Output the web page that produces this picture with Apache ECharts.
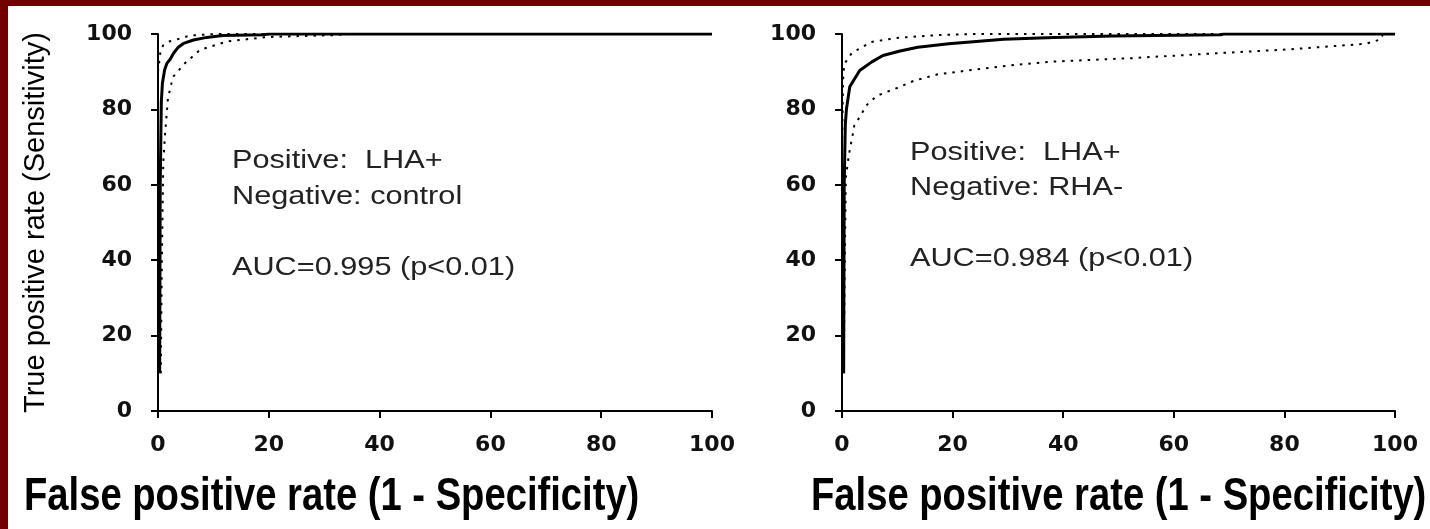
<!DOCTYPE html>
<html>
<head>
<meta charset="utf-8">
<script src="https://cdn.jsdelivr.net/npm/echarts@6/dist/echarts.min.js"></script>
<style>
    html, body { margin: 0; padding: 0; background: #fff; }
    #chart { width: 1430px; height: 529px; }
</style>
</head>
<body>
<div id="chart"></div>
<script>
// axis ticks (percent)
const xTicks = [0, 20, 40, 60, 80, 100];
const yTicks = [0, 20, 40, 60, 80, 100];

// left panel: LHA+ vs control, [false positive %, true positive %]
const leftRoc = [[0.3, 10], [0.4, 60], [0.6, 82], [0.8, 87], [1.2, 90.5], [1.6, 92.2], [2.2, 93.3], [2.8, 94.9], [3.6, 96.4], [4.6, 97.5], [6.4, 98.4], [8.8, 99.1], [11.7, 99.6], [19, 99.8], [20, 100], [100, 100]];
const leftUpper = [[0, 90], [0.5, 96], [1, 97.1], [2, 98], [4, 98.8], [5.8, 99.6], [10.4, 100], [35, 100]];
const leftLower = [[0.5, 10], [0.7, 40], [0.95, 66], [1.3, 74], [1.8, 83], [2.7, 88.6], [4.9, 92.3], [7.6, 95.8], [12.4, 98], [19.6, 99.2], [31.6, 99.7], [35, 100]];

// right panel: LHA+ vs RHA-
const rightRoc = [[0.3, 10], [0.4, 60], [0.6, 76], [0.8, 80], [1.4, 86], [3.2, 90.3], [5.4, 92.6], [7.4, 94.3], [10.5, 95.5], [13.7, 96.5], [19.3, 97.4], [24.3, 98], [29.2, 98.6], [38.4, 99.1], [48.9, 99.5], [68.5, 99.8], [69, 100], [100, 100]];
const rightUpper = [[0, 70], [0.2, 88], [0.4, 92], [1.8, 95], [5.3, 97.9], [10.2, 99], [17.3, 99.7], [24.3, 100], [70, 100]];
const rightLower = [[0.3, 10], [0.5, 40], [0.7, 62], [1.2, 67.5], [1.5, 70], [1.9, 73], [2.2, 75.6], [3.4, 78.5], [4.5, 81.2], [6.3, 83.6], [10.5, 86], [13, 87.6], [17.3, 89.3], [24.3, 90.6], [31.3, 91.8], [38.4, 92.7], [52.5, 93.6], [66.5, 94.8], [80.6, 95.9], [94.7, 97.4], [97.5, 98.6], [97.8, 100], [100, 100]];

const leftNotes = ['Positive:  LHA+', 'Negative: control', 'AUC=0.995 (p<0.01)'];
const rightNotes = ['Positive:  LHA+', 'Negative: RHA-', 'AUC=0.984 (p<0.01)'];
const xTitle = 'False positive rate (1 - Specificity)';
const yTitle = 'True positive rate (Sensitivity)';

const border = '#730000';

function makeX(idx) {
    return {
        type: 'value', gridIndex: idx, min: xTicks[0], max: xTicks[xTicks.length - 1], interval: 20,
        splitLine: { show: false },
        axisLine: { lineStyle: { color: '#000', width: 2 } },
        axisTick: { length: 7, lineStyle: { color: '#000', width: 2 } },
        axisLabel: { margin: 23, color: '#111', fontSize: 22, fontWeight: 'bold', fontFamily: 'DejaVu Sans' }
    };
}
function makeY(idx, showName) {
    return {
        type: 'value', gridIndex: idx, min: yTicks[0], max: yTicks[yTicks.length - 1], interval: 20,
        splitLine: { show: false },
        name: showName ? yTitle : '',
        nameLocation: 'middle', nameGap: 108,
        nameTextStyle: { color: '#000', fontSize: 29, fontFamily: 'Liberation Sans' },
        axisLine: { show: true, lineStyle: { color: '#000', width: 2 } },
        axisTick: { show: true, length: 7, lineStyle: { color: '#000', width: 2 } },
        axisLabel: { margin: 26, color: '#111', fontSize: 22, fontWeight: 'bold', fontFamily: 'DejaVu Sans' }
    };
}
function line(idx, data, dotted) {
    return {
        type: 'line', xAxisIndex: idx, yAxisIndex: idx, data: data,
        showSymbol: false, silent: true, z: dotted ? 2 : 3,
        lineStyle: dotted ? { color: '#000', width: 2, type: [2.5, 6] } : { color: '#000', width: 3 }
    };
}
function notes(x, ys, texts) {
    return texts.map((t, i) => ({
        type: 'text', x: x, y: ys[i], scaleX: 1.18, z: 10,
        style: { text: t, fill: '#222', font: '26px "Liberation Sans", Arial', verticalAlign: 'middle' }
    }));
}
function titleText(x) {
    return {
        type: 'text', x: x, y: 497, scaleX: 0.83, z: 10,
        style: { text: xTitle, fill: '#000', font: 'bold 46px "Liberation Sans", Arial', verticalAlign: 'middle' }
    };
}

let myChart = echarts.init(document.getElementById('chart'));
let option = {
    animation: false,
    backgroundColor: '#fff',
    grid: [
        { left: 158, top: 34, width: 554, height: 377 },
        { left: 842, top: 34, width: 553, height: 377 }
    ],
    xAxis: [makeX(0), makeX(1)],
    yAxis: [makeY(0, true), makeY(1, false)],
    series: [
        line(0, leftUpper, true), line(0, leftLower, true), line(0, leftRoc, false),
        line(1, rightUpper, true), line(1, rightLower, true), line(1, rightRoc, false)
    ],
    graphic: [
        { type: 'rect', shape: { x: 0, y: 0, width: 1430, height: 6 }, style: { fill: border }, z: 20 },
        { type: 'rect', shape: { x: 0, y: 0, width: 8, height: 529 }, style: { fill: border }, z: 20 },
        titleText(24),
        titleText(811)
    ].concat(notes(232, [161, 197, 268], leftNotes), notes(910, [153, 188, 259], rightNotes))
};
myChart.setOption(option);
</script>
</body>
</html>
